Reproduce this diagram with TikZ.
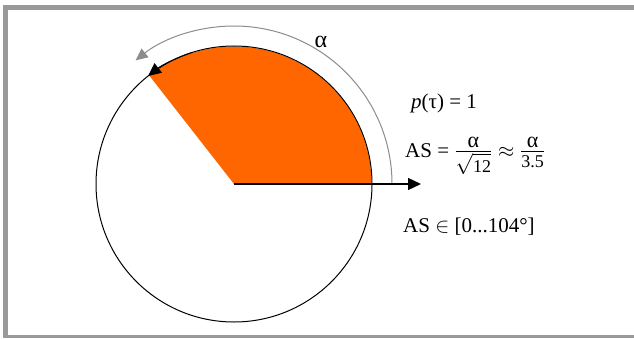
\RequirePackage{fix-cm}
\documentclass[tikz,border=0pt]{standalone}
\usepackage{amsmath}
\usepackage{fontspec}
\setmainfont{Liberation Serif}
\usetikzlibrary{arrows.meta}
\definecolor{framegray}{HTML}{999999}
\definecolor{arcgray}{HTML}{8C8C8C}
\definecolor{sectororange}{HTML}{FF6600}
\newcommand\frtxt[1]{\text{\fontsize{18}{20}\selectfont\rule{0pt}{14.5pt}#1}}
\newcommand\fralpha{\text{\fontsize{22}{24}\selectfont\rule[-3pt]{0pt}{3pt}α}}
\tikzset{
  lbl/.style={inner sep=0pt, font=\fontsize{21}{25}\selectfont},
  blackline/.style={line width=1pt, black},
}
\begin{document}
\begin{tikzpicture}[x=1pt,y=1pt]
\useasboundingbox (0,0) rectangle (634,338);
% frame
\fill[framegray] (3,328) rectangle (634,333);
\fill[framegray] (3,0) rectangle (8,333);
\fill[framegray] (3,0) rectangle (634,3);
% geometry
\coordinate (c) at (234,154);
\coordinate (hend) at (421,154);
\fill[sectororange] (c) -- ++(0:137.5) arc[start angle=0,end angle=128,radius=137.5] -- cycle;
\draw[blackline] (c) circle[radius=138];
\draw[blackline,-{Triangle[length=13pt,width=12pt]}] (c) ++(108:138) arc[start angle=108,end angle=128.5,radius=138];
\draw[arcgray,line width=1pt,-{Triangle[length=12pt,width=11pt]}] (c) ++(0:158) arc[start angle=0,end angle=128.5,radius=158];
\draw[line width=1.3pt,-{Triangle[length=13pt,width=12pt]}] (c) -- (hend);
% labels
\node[lbl,font=\fontsize{24}{26}\selectfont] (alpha) at (321,296) {α};
\node[lbl,anchor=west] (p) at (411,235) {\textit{p}(τ) = 1};
\node[lbl,anchor=base west] (as) at (405,181) {AS = $\frac{\fralpha}{\sqrt{\frtxt{12}}}\approx\frac{\fralpha}{\frtxt{3.5}}$};
\node[lbl,anchor=west] (range) at (403,111) {AS $\in$ [0...104°]};
\end{tikzpicture}
\end{document}
